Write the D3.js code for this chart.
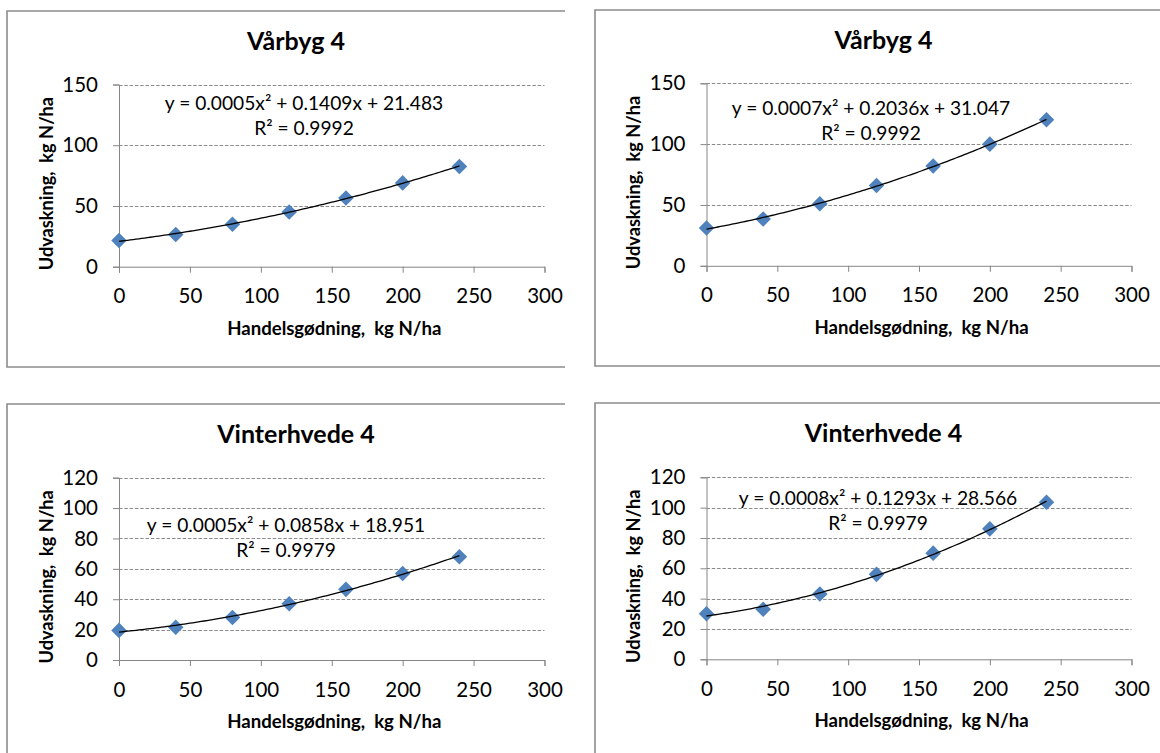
<!DOCTYPE html>
<html>
<head>
<meta charset="utf-8">
<script src="https://cdn.jsdelivr.net/npm/d3@7"></script>
<style>
  body { margin: 0; background: #fff; }
  text { font-family: Lato, "Open Sans", sans-serif; white-space: pre; }
</style>
</head>
<body>
<div id="chart"></div>
<script>
// kg N/ha handelsgødning, same levels in all four charts
var nLevels = [0, 40, 80, 120, 160, 200, 240];

// udvaskning
var vaarbygA = [21.5, 26.5, 35, 45, 56.5, 69, 82.5];
var vaarbygB = [31, 38.5, 51, 66, 82, 100, 120];
var hvedeA = [19.5, 21.5, 28, 37, 46.5, 57, 68];
var hvedeB = [30, 33, 43, 56, 70, 86, 103.5];

var titles = ["Vårbyg 4", "Vårbyg 4", "Vinterhvede 4", "Vinterhvede 4"];
var equations = [
  "y = 0.0005x² + 0.1409x + 21.483",
  "y = 0.0007x² + 0.2036x + 31.047",
  "y = 0.0005x² + 0.0858x + 18.951",
  "y = 0.0008x² + 0.1293x + 28.566"
];
var rSquared = ["R² = 0.9992", "R² = 0.9992", "R² = 0.9979", "R² = 0.9979"];

var xTicks = [0, 50, 100, 150, 200, 250, 300];
var yTicksByg = [0, 50, 100, 150];
var yTicksHvede = [0, 20, 40, 60, 80, 100, 120];

var xTitle = "Handelsgødning,  kg N/ha";
var yTitle = "Udvaskning,  kg N/ha";

// layout of each panel (pixels)
var panels = [
  {values: vaarbygA, yTicks: yTicksByg, frame: [7, 11, 565, 367], plot: [119, 84.5, 544.5, 266.7], eq: [304, 110]},
  {values: vaarbygB, yTicks: yTicksByg, frame: [595, 10, 1170, 366], plot: [706.5, 83.3, 1131.5, 265.8], eq: [871, 115]},
  {values: hvedeA, yTicks: yTicksHvede, frame: [7, 404, 565, 770], plot: [119, 477.7, 544.5, 660], eq: [286, 531.7]},
  {values: hvedeB, yTicks: yTicksHvede, frame: [595, 403, 1170, 770], plot: [706.5, 477.3, 1131.5, 659.3], eq: [878, 505]}
];

var axisColor = "#868686";
var markerColor = "#4F81BD";

var svg = d3.select("#chart")
  .append("svg")
    .attr("width", 1160)
    .attr("height", 753);

// least squares 2nd order polynomial, like the excel trendline
function quadFit(xs, ys) {
  var s = [0, 0, 0, 0, 0], t = [0, 0, 0];
  xs.forEach(function(x, i) {
    for (var k = 0; k < 5; k++) s[k] += Math.pow(x, k);
    for (var k = 0; k < 3; k++) t[k] += Math.pow(x, k) * ys[i];
  });
  var m = [[s[0], s[1], s[2], t[0]], [s[1], s[2], s[3], t[1]], [s[2], s[3], s[4], t[2]]];
  for (var i = 0; i < 3; i++) {
    for (var j = i + 1; j < 3; j++) {
      var f = m[j][i] / m[i][i];
      for (var k = i; k < 4; k++) m[j][k] -= f * m[i][k];
    }
  }
  var c = [0, 0, 0];
  for (var i = 2; i >= 0; i--) {
    var v = m[i][3];
    for (var k = i + 1; k < 3; k++) v -= m[i][k] * c[k];
    c[i] = v / m[i][i];
  }
  return function(x) { return c[0] + c[1] * x + c[2] * x * x; };
}

panels.forEach(function(p, i) {
  var f = p.frame, pl = p.plot;

  // chart frame (right side is cut off in the original)
  svg.append("path")
    .attr("d", "M" + f[2] + "," + f[1] + "H" + f[0] + "V" + f[3] + "H" + f[2])
    .attr("fill", "none")
    .attr("stroke", "#8c8c8c")
    .attr("stroke-width", 1.6);

  var x = d3.scaleLinear().domain([0, 300]).range([pl[0], pl[2]]);
  var y = d3.scaleLinear().domain([0, d3.max(p.yTicks)]).range([pl[3], pl[1]]);

  // gridlines
  svg.append("g")
    .selectAll("line")
    .data(p.yTicks.filter(function(d) { return d > 0; }))
    .enter()
    .append("line")
      .attr("x1", pl[0])
      .attr("x2", pl[2])
      .attr("y1", function(d) { return Math.round(y(d)) + 0.5; })
      .attr("y2", function(d) { return Math.round(y(d)) + 0.5; })
      .attr("stroke", "#8a8a8a")
      .attr("stroke-dasharray", "3.5,1.8");

  var xAxis = svg.append("g")
    .attr("transform", "translate(0," + pl[3] + ")")
    .call(d3.axisBottom(x).tickValues(xTicks).tickSize(6).tickPadding(16));
  var yAxis = svg.append("g")
    .attr("transform", "translate(" + pl[0] + ",0)")
    .call(d3.axisLeft(y).tickValues(p.yTicks).tickSize(6).tickPadding(15));

  [xAxis, yAxis].forEach(function(a) {
    a.selectAll("path, line").attr("stroke", axisColor);
    a.selectAll("text")
      .attr("fill", "#000")
      .style("font-size", "20.5px")
      .style("font-family", "Lato, 'Open Sans', sans-serif");
  });

  // markers
  svg.append("g")
    .selectAll("path")
    .data(nLevels)
    .enter()
    .append("path")
      .attr("d", d3.symbol(d3.symbolSquare, 121))
      .attr("transform", function(d, j) {
        return "translate(" + x(d) + "," + y(p.values[j]) + ") rotate(45)";
      })
      .attr("fill", markerColor);

  // trendline
  var fit = quadFit(nLevels, p.values);
  svg.append("path")
    .datum(d3.range(0, 241, 2))
    .attr("d", d3.line().x(function(d) { return x(d); }).y(function(d) { return y(fit(d)); }))
    .attr("fill", "none")
    .attr("stroke", "#000")
    .attr("stroke-width", 1.3);

  // title
  svg.append("text")
    .attr("x", pl[0] + 177)
    .attr("y", f[1] + 39)
    .attr("text-anchor", "middle")
    .style("font-size", "25px")
    .style("font-weight", "bold")
    .text(titles[i]);

  // equation + R2
  svg.append("text")
    .attr("x", p.eq[0])
    .attr("y", p.eq[1])
    .attr("text-anchor", "middle")
    .style("font-size", "19.2px")
    .text(equations[i]);
  svg.append("text")
    .attr("x", p.eq[0])
    .attr("y", p.eq[1] + 25)
    .attr("text-anchor", "middle")
    .style("font-size", "19.2px")
    .text(rSquared[i]);

  // axis titles
  svg.append("text")
    .attr("x", (pl[0] + pl[2]) / 2 + 2.5)
    .attr("y", pl[3] + 68)
    .attr("text-anchor", "middle")
    .style("font-size", "18.6px")
    .style("font-weight", "bold")
    .text(xTitle);
  svg.append("text")
    .attr("transform", "translate(" + (pl[0] - 66.5) + "," + ((pl[1] + pl[3]) / 2 + 8) + ") rotate(-90)")
    .attr("text-anchor", "middle")
    .style("font-size", "18.2px")
    .style("font-weight", "bold")
    .text(yTitle);
});
</script>
</body>
</html>
